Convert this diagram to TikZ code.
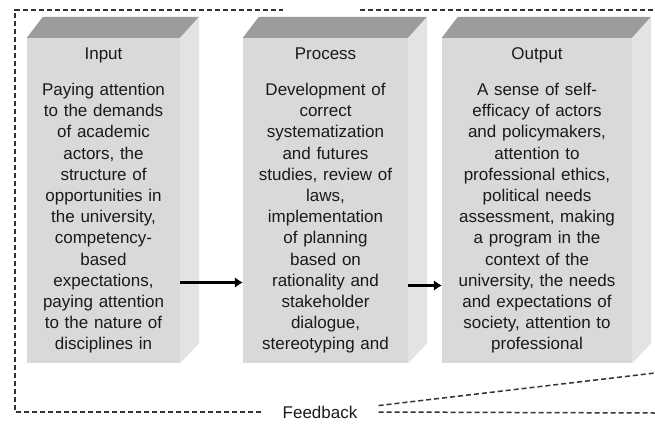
\documentclass[tikz,border=0pt]{standalone}
\usepackage{fontspec}
\setmainfont{Liberation Sans}
\usepackage{tikz}
\usetikzlibrary{shapes,arrows,arrows.meta}
\definecolor{frontgray}{HTML}{D9D9D9}
\definecolor{sidegray}{HTML}{E3E3E3}
\definecolor{topgray}{HTML}{9C9C9C}
\definecolor{inkgray}{HTML}{1A1A1A}
\definecolor{loopgray}{HTML}{333333}
\tikzstyle{block} = [rectangle, fill=frontgray, text=inkgray, text centered,
minimum height=325pt, inner xsep=4pt, inner ysep=0pt, font=\fontsize{17}{21.2}\selectfont]
\tikzstyle{topface} = [fill=topgray]
\tikzstyle{sideface} = [fill=sidegray]
\tikzstyle{line} = [draw, -{Latex[length=8pt,width=11pt]}, line width=3.5pt]
\tikzstyle{feedbackline} = [draw=loopgray, line width=1.5pt, dash pattern=on 5pt off 3pt]

\begin{document}
\begin{tikzpicture}[x=1pt, y=-1pt]
	\useasboundingbox (0,0) rectangle (655,423);
	% Place nodes
	\node [block, text width=145pt, minimum width=153pt] (input) at (103.5,200.5) {Input\\[15pt]Paying attention\\to the demands\\of academic\\actors, the\\structure of\\opportunities in\\the university,\\competency-\\based\\expectations,\\paying attention\\to the nature of\\disciplines in};
	\node [block, text width=157pt, minimum width=165pt, right of=input, node distance=222pt] (process) {Process\\[15pt]Development of\\correct\\systematization\\and futures\\studies, review of\\laws,\\implementation\\of planning\\based on\\rationality and\\stakeholder\\dialogue,\\stereotyping and};
	\node [block, text width=182pt, minimum width=190pt, right of=process, node distance=211.5pt] (output) {Output\\[15pt]A sense of self-\\efficacy of actors\\and policymakers,\\attention to\\professional ethics,\\political needs\\assessment, making\\a program in the\\context of the\\university, the needs\\and expectations of\\society, attention to\\professional};
	\node [text=inkgray, font=\fontsize{17}{21}\selectfont, inner xsep=21pt, inner ysep=0pt] (feedback) at (320,412) {Feedback};
	\coordinate (loopbl) at (15,412);
	\coordinate (looptl) at (15,10);
	\coordinate (looptop) at (283,10);
	\coordinate (looptopr) at (360,10);
	\coordinate (looptopend) at (655,10);
	\coordinate (loopright) at (655,413);
	\coordinate (loopslant) at (655,373);
	% Draw faces
	\foreach \blk in {input,process,output} {
		\path [topface] (\blk.north west) -- ++(16,-21) -- ([shift={(19,-21)}]\blk.north east) -- (\blk.north east) -- cycle;
		\path [sideface] (\blk.north east) -- ++(19,-21) -- ([shift={(19,-20)}]\blk.south east) -- (\blk.south east) -- cycle;
	}
	% Draw edges
	\path [line] ([yshift=-82pt]input.east) -- ([yshift=-82pt]process.west);
	\path [line] ([yshift=-85pt]process.east) -- ([yshift=-85pt]output.west);
	\path [feedbackline] (feedback.west) -- (loopbl) -- (looptl) -- (looptop);
	\path [feedbackline] (looptopr) -- (looptopend);
	\path [feedbackline] (feedback.east) -- (loopright);
	\path [feedbackline] (feedback.north east) -- (loopslant);
\end{tikzpicture}
\end{document}
